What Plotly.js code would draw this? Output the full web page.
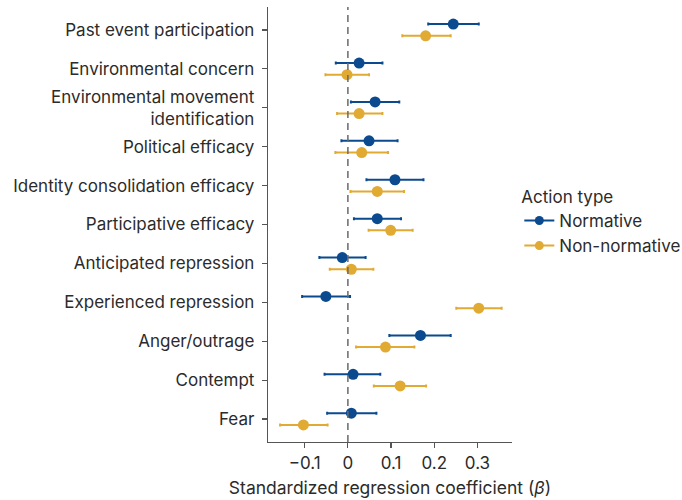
<!DOCTYPE html>
<html>
<head>
<meta charset="utf-8">
<script src="https://cdn.plot.ly/plotly-3.0.1.min.js"></script>
<style>html,body{margin:0;padding:0;background:#fff;}#chart{width:682px;height:500px;}</style>
</head>
<body>
<div id="chart"></div>
<script>
const categories = [
  "Past event participation",
  "Environmental concern",
  "Environmental movement<br>identification",
  "Political efficacy",
  "Identity consolidation efficacy",
  "Participative efficacy",
  "Anticipated repression",
  "Experienced repression",
  "Anger/outrage",
  "Contempt",
  "Fear"
];
const normBeta = [0.244, 0.026, 0.063, 0.049, 0.109, 0.068, -0.013, -0.051, 0.168, 0.012, 0.008];
const normLow  = [0.186, -0.028, 0.007, -0.015, 0.043, 0.014, -0.066, -0.106, 0.096, -0.054, -0.048];
const normHigh = [0.303, 0.080, 0.119, 0.115, 0.175, 0.123, 0.041, 0.005, 0.238, 0.075, 0.066];
const nonBeta  = [0.180, -0.002, 0.026, 0.032, 0.068, 0.099, 0.008, 0.303, 0.087, 0.121, -0.103];
const nonLow   = [0.126, -0.052, -0.025, -0.029, 0.006, 0.048, -0.042, 0.251, 0.019, 0.060, -0.157];
const nonHigh  = [0.238, 0.049, 0.080, 0.093, 0.130, 0.150, 0.059, 0.356, 0.154, 0.181, -0.047];
const xTicks = [-0.1, 0, 0.1, 0.2, 0.3];
const xTickText = ["\u22120.1", "0", "0.1", "0.2", "0.3"];
const seriesNames = ["Normative", "Non-normative"];

const BLUE = "#0b4a8e";
const GOLD = "#e1aa33";
const DODGE = 0.15;
const idx = categories.map((_, i) => i);

function series(beta, low, high, offset, color, name) {
  return {
    type: "scatter", mode: "markers", name: name, showlegend: false,
    x: beta, y: idx.map(i => i + offset),
    marker: {color: color, size: 11},
    error_x: {type: "data", symmetric: false,
      array: beta.map((b, i) => high[i] - b),
      arrayminus: beta.map((b, i) => b - low[i]),
      color: color, thickness: 2, width: 1.5},
    hoverinfo: "x+name"
  };
}
function legendItem(color, name) {
  return {type: "scatter", mode: "lines+markers", name: name, x: [null], y: [null],
    line: {color: color, width: 2}, marker: {color: color, size: 9}, showlegend: true};
}

const data = [
  series(normBeta, normLow, normHigh, -DODGE, BLUE, seriesNames[0]),
  series(nonBeta, nonLow, nonHigh, DODGE, GOLD, seriesNames[1]),
  legendItem(BLUE, seriesNames[0]),
  legendItem(GOLD, seriesNames[1])
];

const layout = {
  width: 682, height: 500,
  margin: {l: 268, r: 170, t: 7, b: 58, autoexpand: false},
  paper_bgcolor: "#fff", plot_bgcolor: "#fff",
  font: {family: "Inter, 'Noto Sans', sans-serif", size: 17, color: "#2b2b2b"},
  xaxis: {
    range: [-0.185, 0.38], tickvals: xTicks, ticktext: xTickText,
    showgrid: false, zeroline: false, showline: true, linecolor: "#555", linewidth: 1.2,
    ticks: "outside", ticklen: 5, tickcolor: "#555", tickwidth: 1.2,
    title: {text: "Standardized regression coefficient (<i>\u03b2</i>)", standoff: 10, font: {size: 17.5}}
  },
  yaxis: {
    range: [10.59, -0.59], tickvals: idx, ticktext: categories,
    showgrid: false, zeroline: false, showline: true, linecolor: "#555", linewidth: 1.2,
    ticks: "outside", ticklen: 5, tickcolor: "#555", tickwidth: 1.2,
    ticklabelstandoff: 4
  },
  shapes: [{type: "line", xref: "x", yref: "paper", x0: 0, x1: 0, y0: 0, y1: 1,
    line: {color: "#6a6a6a", width: 1.5, dash: "7px,5px"}}],
  legend: {x: 1.03, xanchor: "left", y: 0.505, yanchor: "middle",
    title: {text: "Action type", font: {size: 17}}, font: {size: 17},
    tracegroupgap: 0, itemwidth: 30},
  showlegend: true
};

Plotly.newPlot("chart", data, layout, {displayModeBar: false, staticPlot: true});
</script>
</body>
</html>
